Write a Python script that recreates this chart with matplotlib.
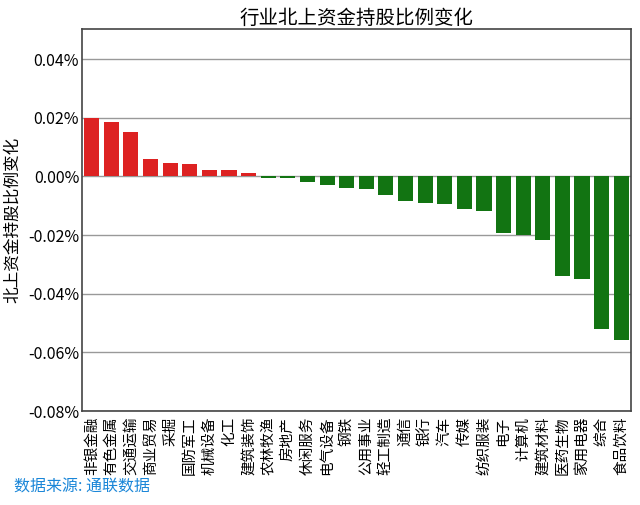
import matplotlib
matplotlib.use("Agg")
import matplotlib.pyplot as plt
from matplotlib.ticker import FuncFormatter

plt.rcParams['font.family'] = ['Noto Sans CJK SC', 'DejaVu Sans']

# industries, sorted by change in northbound holding ratio (%)
industries = ['非银金融', '有色金属', '交通运输', '商业贸易', '采掘', '国防军工', '机械设备', '化工',
              '建筑装饰', '农林牧渔', '房地产', '休闲服务', '电气设备', '钢铁', '公用事业', '轻工制造',
              '通信', '银行', '汽车', '传媒', '纺织服装', '电子', '计算机', '建筑材料',
              '医药生物', '家用电器', '综合', '食品饮料']
changes = [0.0201, 0.0186, 0.0151, 0.0058, 0.0047, 0.0041, 0.0021, 0.0021,
           0.0013, -0.0006, -0.0006, -0.0018, -0.0028, -0.0038, -0.0042, -0.0064,
           -0.0085, -0.0090, -0.0093, -0.0110, -0.0119, -0.0193, -0.0198, -0.0216,
           -0.0338, -0.0350, -0.0520, -0.0558]
yticks = [-0.08, -0.06, -0.04, -0.02, 0.0, 0.02, 0.04]

colors = ['#dd2222' if v > 0 else '#127412' for v in changes]

fig, ax = plt.subplots(figsize=(6.4, 5.05), dpi=100)
fig.subplots_adjust(left=0.128, right=0.986, top=0.9426, bottom=0.186)

x = range(len(industries))
ax.bar(x, changes, width=0.77, color=colors, zorder=3)

ax.set_ylim(-0.08, 0.0503)
ax.set_xlim(-0.5, 27.5)
ax.set_yticks(yticks)
ax.yaxis.set_major_formatter(FuncFormatter(lambda v, p: f"{v:.2f}%"))
ax.grid(axis='y', color='#999999', linewidth=1, zorder=0)
ax.set_xticks(list(x))
ax.set_xticklabels(industries, rotation=90, fontsize=10.5)
ax.tick_params(axis='x', length=0, pad=4)
ax.tick_params(axis='y', length=0, pad=2, labelsize=11.5)
for s in ax.spines.values():
    s.set_color('#444444')
    s.set_linewidth(1.2)

ax.set_title('行业北上资金持股比例变化', fontsize=14, pad=4)
ax.set_ylabel('北上资金持股比例变化', fontsize=12, labelpad=5)

fig.text(0.022, 0.026, '数据来源: 通联数据', color='#1a86d8', fontsize=11.5)

fig.savefig('out.png', dpi=100)
